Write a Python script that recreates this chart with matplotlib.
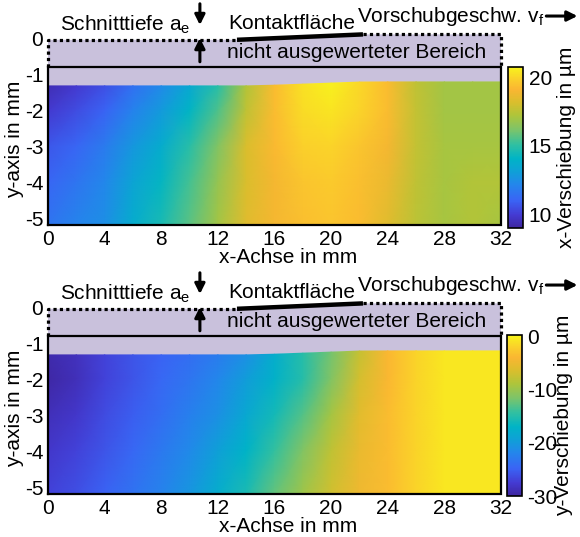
import numpy as np
import matplotlib
matplotlib.use('Agg')
import matplotlib.pyplot as plt
from matplotlib.colors import LinearSegmentedColormap
from matplotlib.patches import Polygon

plt.rcParams['font.family'] = ['Liberation Sans', 'DejaVu Sans']
plt.rcParams['mathtext.fontset'] = 'custom'
plt.rcParams['mathtext.rm'] = 'Liberation Sans'
plt.rcParams['mathtext.it'] = 'Liberation Sans'
plt.rcParams['mathtext.default'] = 'regular'
plt.rcParams['axes.unicode_minus'] = False

# ---------------- data ----------------
x_mm = [0, 2, 4, 6, 8, 10, 12, 14, 16, 18, 20, 22, 24, 26, 28, 30, 32]
y_mm = [-1.33, -2, -3, -4, -5.2]
# upper boundary of the evaluated region
edge_x = [0, 14.7, 22.25, 32]
edge_y = [-1.33, -1.33, -1.22, -1.22]

ux_top = [9.4, 9.9, 10.5, 11.4, 12.3, 13.5, 14.9, 17.3, 19.3, 20.3, 20.7, 20.1, 19.3, 17.6, 17.0, 17.0, 17.0]
ux_m2 = [9.9, 10.4, 11.0, 12.0, 12.9, 14.1, 15.5, 17.6, 19.3, 20.2, 20.4, 20.0, 19.3, 17.7, 17.0, 17.0, 17.0]
ux_m3 = [10.7, 11.1, 11.8, 12.8, 13.7, 14.9, 16.3, 18.2, 19.2, 19.9, 20.0, 19.6, 19.0, 17.7, 17.1, 17.1, 17.1]
ux_m4 = [11.1, 11.6, 12.2, 13.3, 14.2, 15.4, 16.7, 18.2, 19.0, 19.6, 19.7, 19.4, 18.7, 17.6, 17.1, 17.3, 17.3]
ux_bot = [11.6, 12.1, 12.5, 13.7, 14.6, 15.7, 17.0, 18.4, 19.0, 19.4, 19.6, 19.3, 18.4, 17.5, 17.1, 17.3, 17.1]

uy_top = [-29.4, -28.5, -27.0, -25.8, -24.8, -23.9, -22.7, -20.9, -17.9, -14.9, -11.8, -7.6, -3.9, -1.8, -0.6, -0.6, -0.6]
uy_m2 = [-29.7, -28.8, -27.0, -25.8, -24.5, -23.3, -21.8, -19.7, -17.3, -14.9, -11.2, -6.7, -3.9, -1.8, -0.6, -0.6, -0.6]
uy_m3 = [-28.8, -27.9, -26.4, -25.2, -23.9, -22.4, -20.9, -18.5, -15.8, -13.0, -9.4, -5.8, -3.6, -1.8, -0.6, -0.6, -0.6]
uy_m4 = [-27.9, -27.0, -25.8, -24.5, -23.0, -21.5, -19.4, -17.0, -14.2, -11.2, -7.9, -5.2, -3.6, -1.8, -0.6, -0.6, -0.6]
uy_bot = [-27.0, -26.1, -24.8, -23.6, -22.1, -20.3, -17.9, -15.5, -12.4, -9.7, -7.0, -4.9, -3.6, -1.8, -0.6, -0.6, -0.6]

x_ticks = [0, 4, 8, 12, 16, 20, 24, 28, 32]
y_ticks = [0, -1, -2, -3, -4, -5]
ux_ticks = [10, 15, 20]
uy_ticks = [0, -10, -20, -30]
ux_lim = (9.0, 20.8)
uy_lim = (-30.0, 0.3)

# ---------------- parula-like colormap (as rendered in the reference) ----------------
cm_pos = [0.00, 0.08, 0.17, 0.27, 0.35, 0.43, 0.52, 0.61, 0.70, 0.78, 0.86, 0.93, 1.00]
cm_rgb = [(62, 38, 160), (68, 58, 210), (58, 100, 245), (35, 135, 235), (15, 160, 215),
          (0, 180, 198), (50, 192, 160), (125, 196, 105), (175, 197, 58), (218, 190, 45),
          (250, 182, 50), (250, 210, 42), (248, 245, 28)]
cmap = LinearSegmentedColormap.from_list(
    'parula_like', [(p, tuple(c / 255 for c in rgb)) for p, rgb in zip(cm_pos, cm_rgb)], N=256)

PURPLE = '#C9C1DC'

W, H = 580, 537
fig = plt.figure(figsize=(W / 100, H / 100), dpi=100)

def px(x0, y0, w, h):
    return [x0 / W, 1 - (y0 + h) / H, w / W, h / H]

def panel(ax_rect, cax_rect, field, clim, cticks, clabel):
    ax = fig.add_axes(ax_rect)
    X, Y = np.meshgrid(np.array(x_mm, float), np.array(y_mm, float))
    Y[0, :] = np.interp(x_mm, edge_x, edge_y)
    C = np.array(field, float)
    # lavender region
    poly = [(0, -0.05), (13.35, -0.05), (22.25, 0.1), (32, 0.1)]
    poly += [(ex, ey) for ex, ey in zip(edge_x[::-1], edge_y[::-1])]
    ax.add_patch(Polygon(poly, closed=True, facecolor=PURPLE, edgecolor='none', zorder=0.5, clip_on=False))
    m = ax.pcolormesh(X, Y, C, shading='gouraud', cmap=cmap, vmin=clim[0], vmax=clim[1], zorder=1)
    ax.set_xlim(0, 32)
    ax.set_ylim(-5.2, 0.2)
    for s in ax.spines.values():
        s.set_visible(False)
    # frame of the evaluated area
    ax.plot([0, 32, 32, 0, 0], [-5.2, -5.2, -0.8, -0.8, -5.2], color='k', lw=1.6, clip_on=False, zorder=5,
            solid_joinstyle='miter')
    dot = dict(color='k', lw=2.3, linestyle=(0, (1, 1)), clip_on=False, zorder=5)
    ax.plot([0, 0, 13.35], [-0.8, -0.05, -0.05], **dot)
    ax.plot([22.25, 32, 32], [0.1, 0.1, -0.8], **dot)
    ax.plot([13.35, 22.25], [-0.05, 0.1], color='k', lw=3.2, solid_capstyle='butt', clip_on=False, zorder=5)
    ax.set_xticks(x_ticks)
    ax.set_yticks(y_ticks)
    ax.tick_params(length=0, labelsize=15, pad=3.5)
    ax.set_xlabel('x-Achse in mm', fontsize=15, va='top')
    ax.xaxis.set_label_coords(0.53, -0.117)
    ax.set_ylabel('y-axis in mm', fontsize=15)
    ax.yaxis.set_label_coords(-0.052, 0.443)
    # annotations
    fs = 15
    ax.text(0.85, 0.2, 'Schnitttiefe a$_e$', fontsize=fs, va='baseline', ha='left')
    ax.text(12.7, 0.24, 'Kontaktfläche', fontsize=fs, va='baseline', ha='left')
    ax.text(21.8, 0.45, 'Vorschubgeschw. v$_f$', fontsize=fs, va='baseline', ha='left')
    ax.text(12.64, -0.556, 'nicht ausgewerteter Bereich', fontsize=fs, va='baseline', ha='left', zorder=6)
    ap = dict(arrowstyle='-|>', color='k', lw=2.2, mutation_scale=15, shrinkA=0, shrinkB=0)
    ax.annotate('', xy=(10.73, 0.36), xytext=(10.73, 0.95), arrowprops=ap, annotation_clip=False)
    ax.annotate('', xy=(10.73, 0.0), xytext=(10.73, -0.66), arrowprops=ap, annotation_clip=False)
    ax.annotate('', xy=(37.4, 0.61), xytext=(35.2, 0.61), arrowprops=ap, annotation_clip=False)
    # colorbar
    cax = fig.add_axes(cax_rect)
    cb = fig.colorbar(m, cax=cax)
    cb.set_ticks(cticks)
    cb.outline.set_linewidth(1.2)
    cax.tick_params(length=0, labelsize=15, pad=4)
    cb.set_label(clabel, fontsize=15)
    cax.yaxis.set_label_coords(3.27, 0.5)
    return ax

ux = [ux_top, ux_m2, ux_m3, ux_m4, ux_bot]
uy = [uy_top, uy_m2, uy_m3, uy_m4, uy_bot]

panel(px(48, 30.8, 453, 194.4), px(508, 66.7, 15, 161.3), ux, ux_lim, ux_ticks, 'x-Verschiebung in µm')
panel(px(48, 299.8, 453, 194.4), px(507, 335, 14.5, 161), uy, uy_lim, uy_ticks, 'y-Verschiebung in µm')

fig.savefig('out.png', dpi=100)
